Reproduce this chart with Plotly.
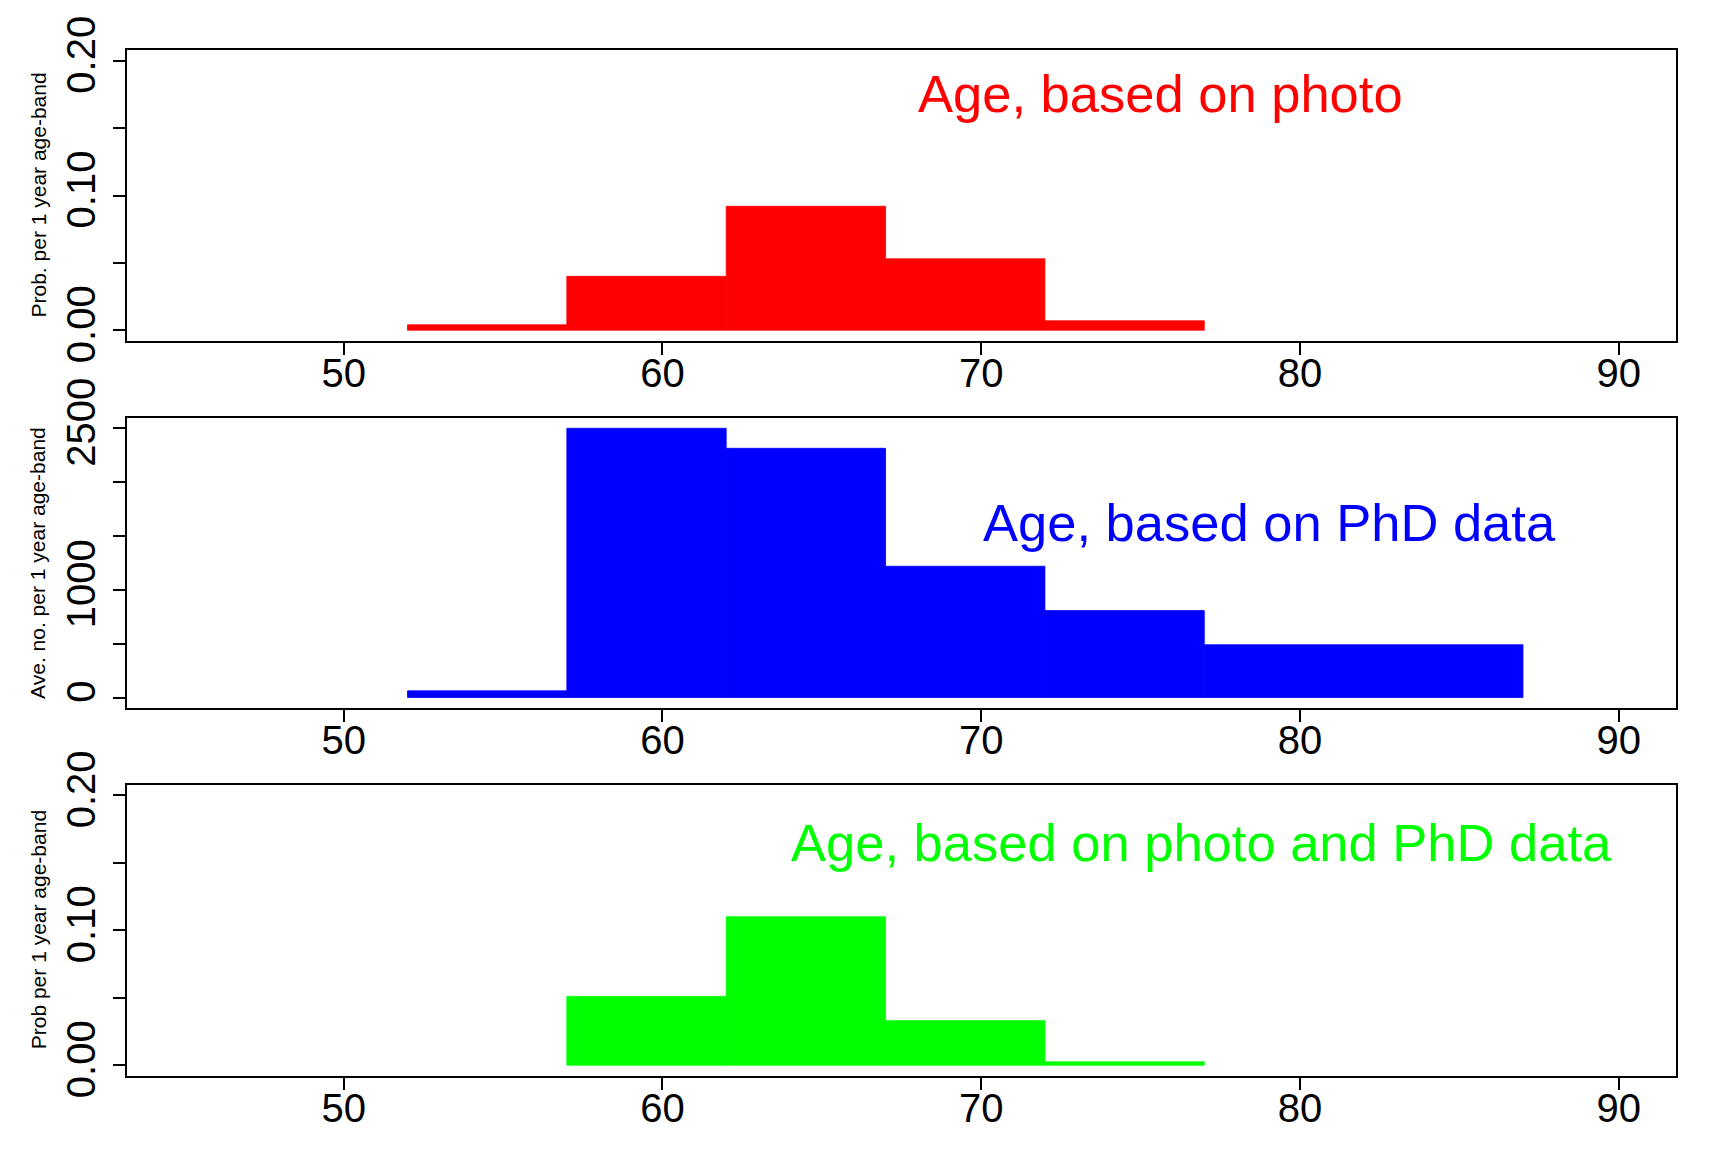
import plotly.graph_objects as go

# ---- data ----
bin_left_5 = [52, 57, 62, 67, 72]
bin_width_5 = [5, 5, 5, 5, 5]
photo_prob = [0.004, 0.040, 0.092, 0.053, 0.007]

phd_left = [52, 57, 62, 67, 72, 77]
phd_width = [5, 5, 5, 5, 5, 10]
phd_count = [62, 2500, 2314, 1219, 807, 490]

comb_left = [57, 62, 67, 72]
comb_width = [5, 5, 5, 5]
comb_prob = [0.051, 0.110, 0.033, 0.0025]

x_ticks = [50, 60, 70, 80, 90]
prob_ticks = [0.00, 0.05, 0.10, 0.15, 0.20]
prob_ticktext = ["0.00", "", "0.10", "", "0.20"]
count_ticks = [0, 500, 1000, 1500, 2000, 2500]
count_ticktext = ["0", "", "1000", "", "", "2500"]

titles = ["Prob. per 1 year age-band", "Ave. no. per 1 year age-band", "Prob per 1 year age-band"]
labels = ["Age, based on photo", "Age, based on PhD data", "Age, based on photo and PhD data"]
label_pos = [(75.64, 0.176), (79.04, 1628), (76.92, 0.1653)]
colors = ["#ff0000", "#0000ff", "#00ff00"]

FONT = "Liberation Sans, Arial, sans-serif"
W, H = 1728, 1152
mt, mb = 50, 76
plot_h = H - mt - mb
panels_px = [(50.0, 341.0), (417.5, 708.3), (784.5, 1076.0)]
domains = [[(H - mb - b) / plot_h, (H - mb - t) / plot_h] for (t, b) in panels_px]
domains = [[max(0, d0), min(1, d1)] for d0, d1 in domains]

fig = go.Figure()
series = [
    (bin_left_5, bin_width_5, photo_prob),
    (phd_left, phd_width, phd_count),
    (comb_left, comb_width, comb_prob),
]
for i, (lefts, widths, vals) in enumerate(series):
    ax = "" if i == 0 else str(i + 1)
    centers = [l + w / 2 for l, w in zip(lefts, widths)]
    fig.add_trace(go.Bar(
        x=centers, y=vals, width=widths, base=0,
        marker=dict(color=colors[i], line=dict(width=0.8, color=colors[i])),
        xaxis="x" + ax, yaxis="y" + ax, showlegend=False, hoverinfo="x+y",
    ))

layout = dict(
    width=W, height=H,
    margin=dict(l=127, r=52, t=mt, b=mb, autoexpand=False),
    paper_bgcolor="white", plot_bgcolor="white",
    font=dict(family=FONT, color="black"),
    showlegend=False,
    annotations=[],
)
yranges = [[-0.008, 0.208], [-100, 2600], [-0.008, 0.208]]
ytv = [(prob_ticks, prob_ticktext), (count_ticks, count_ticktext), (prob_ticks, prob_ticktext)]
for i in range(3):
    ax = "" if i == 0 else str(i + 1)
    layout["xaxis" + ax] = dict(
        domain=[0, 1], range=[43.2, 91.8], anchor="y" + ax, automargin=False,
        tickvals=x_ticks, ticktext=[str(v) for v in x_ticks],
        ticks="outside", ticklen=12, tickwidth=1.5, tickcolor="black",
        ticklabelstandoff=-16,
        showline=True, mirror=True, linecolor="black", linewidth=2,
        showgrid=False, zeroline=False,
        tickfont=dict(size=40, family=FONT, color="black"),
    )
    layout["yaxis" + ax] = dict(
        domain=domains[i], range=yranges[i], anchor="x" + ax, automargin=False,
        tickvals=ytv[i][0], ticktext=ytv[i][1], tickangle=-90,
        ticks="outside", ticklen=12, tickwidth=1.5, tickcolor="black",
        ticklabelstandoff=2,
        showline=True, mirror=True, linecolor="black", linewidth=2,
        showgrid=False, zeroline=False,
        tickfont=dict(size=40, family=FONT, color="black"),
    )
    layout["annotations"].append(dict(
        text=titles[i], xref="paper", x=0, xanchor="center", xshift=-89,
        yref="y" + ax + " domain", y=0.5, yanchor="middle",
        textangle=-90, showarrow=False,
        font=dict(size=21, family=FONT, color="black"),
    ))
    layout["annotations"].append(dict(
        text=labels[i], xref="x" + ax, yref="y" + ax,
        x=label_pos[i][0], y=label_pos[i][1],
        xanchor="center", yanchor="middle", showarrow=False,
        font=dict(size=52.5, family=FONT, color=colors[i]),
    ))

fig.update_layout(**layout)
fig.write_html(
    "out.html",
    config={"displayModeBar": False},
    post_script="document.body.style.margin='0';document.body.style.overflow='hidden';",
)
